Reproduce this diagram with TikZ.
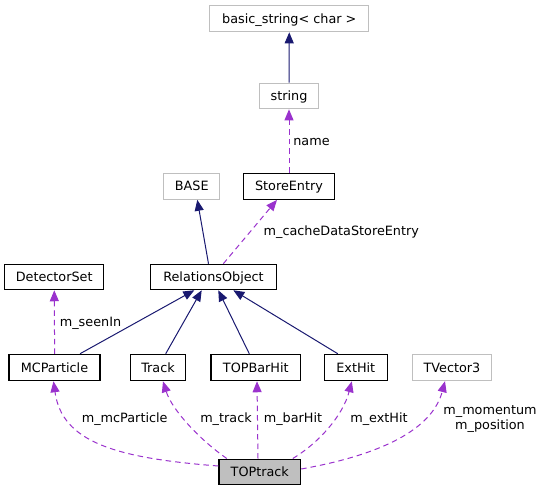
\documentclass[tikz,border=0pt]{standalone}
\usepackage{fontspec}
\setmainfont{DejaVu Sans}
\usetikzlibrary{arrows.meta}
\definecolor{navyedge}{HTML}{191970}
\definecolor{purpedge}{HTML}{9A32CD}
\definecolor{grayline}{HTML}{BFBFBF}
\tikzset{
  box/.style={draw=black, line width=1.1bp, minimum height=26bp, inner sep=0pt, text height=9.5bp, text depth=0.5bp, fill=white},
  gbox/.style={box, draw=grayline, line width=1bp},
  inherit/.style={draw=navyedge, line width=1bp, -{Triangle[length=11bp,width=9bp]}},
  usage/.style={draw=purpedge, line width=1bp, dash pattern=on 5.5bp off 4bp, -{Triangle[length=11bp,width=9bp]}},
  lbl/.style={inner sep=0pt, anchor=base},
}
\begin{document}
\begin{tikzpicture}[x=1bp, y=-1bp, font=\fontsize{12.8bp}{15bp}\selectfont]
\useasboundingbox (0,0) rectangle (545,491);
% nodes
\node[gbox, minimum width=159bp] (bs) at (289.3,18.8) {basic\_string< char >};
\node[gbox, minimum width=59.4bp, minimum height=25.7bp] (str) at (289,96) {string};
\node[box, minimum width=90.6bp] (se) at (289,186.3) {StoreEntry};
\node[gbox, minimum width=56.3bp, minimum height=25.6bp] (base) at (191.8,186.5) {BASE};
\node[box, minimum width=99bp, minimum height=25.4bp] (ds) at (54.2,277) {DetectorSet};
\node[box, minimum width=125.6bp, minimum height=25.4bp] (ro) at (213.5,277) {RelationsObject};
\node[box, minimum width=91bp, minimum height=26.4bp] (mc) at (54.5,367.5) {MCParticle};
\node[box, minimum width=55.4bp, minimum height=26.4bp] (tr) at (158,367.5) {Track};
\node[box, minimum width=89.7bp, minimum height=26.4bp] (tbh) at (255.8,367.5) {TOPBarHit};
\node[box, minimum width=63bp, minimum height=26.4bp] (eh) at (355.8,367.5) {ExtHit};
\node[gbox, minimum width=79.4bp, minimum height=26.4bp] (tv) at (452,367.5) {TVector3};
\node[box, fill=grayline, minimum width=81.7bp, minimum height=25.3bp] (tt) at (259.8,471.7) {TOPtrack};
% inheritance
\draw[inherit] (str) -- (bs);
\draw[inherit] ([xshift=-5bp]ro.north) -- ([xshift=5.5bp]base.south);
\draw[inherit] ([xshift=25.5bp]mc.north) -- ([xshift=-19.2bp]ro.south);
\draw[inherit] ([xshift=7.7bp]tr.north) -- ([xshift=-11.8bp]ro.south);
\draw[inherit] ([xshift=-6.5bp]tbh.north) -- ([xshift=4.8bp]ro.south);
\draw[inherit] ([xshift=-18bp]eh.north) -- ([xshift=19.8bp]ro.south);
% usage
\draw[usage] (se) -- (str);
\draw[usage] ([xshift=9.8bp]ro.north) -- ([xshift=-12bp]se.south);
\draw[usage] ([xshift=0.1bp]mc.north) -- ([xshift=0.1bp]ds.south);
\draw[usage] ([yshift=5.7bp]tt.west) .. controls (115,458) and (62,442) .. ([xshift=-1bp]mc.south);
\draw[usage] ([xshift=-33bp]tt.north) .. controls (200,440) and (172,410) .. ([xshift=5bp]tr.south);
\draw[usage] ([xshift=-1.8bp]tt.north) -- ([xshift=1.2bp]tbh.south);
\draw[usage] ([xshift=33bp]tt.north) .. controls (320,442) and (343,415) .. ([xshift=-4bp]eh.south);
\draw[usage] ([yshift=2.7bp]tt.east) .. controls (380,455) and (432,430) .. ([xshift=-7bp]tv.south);
% labels
\node[lbl] (lname) at (311.5,145.5) {name};
\node[lbl] (lcache) at (341.3,235) {m\_cacheDataStoreEntry};
\node[lbl] (lseen) at (90.5,326) {m\_seenIn};
\node[lbl] (lmc) at (124.7,422.5) {m\_mcParticle};
\node[lbl] (ltr) at (226,422.5) {m\_track};
\node[lbl] (lbar) at (293,422.5) {m\_barHit};
\node[lbl] (lext) at (379,422.5) {m\_extHit};
\node[inner sep=0pt, align=center] (lmom) at (490,419.2) {m\_momentum\\m\_position};
\end{tikzpicture}
\end{document}
